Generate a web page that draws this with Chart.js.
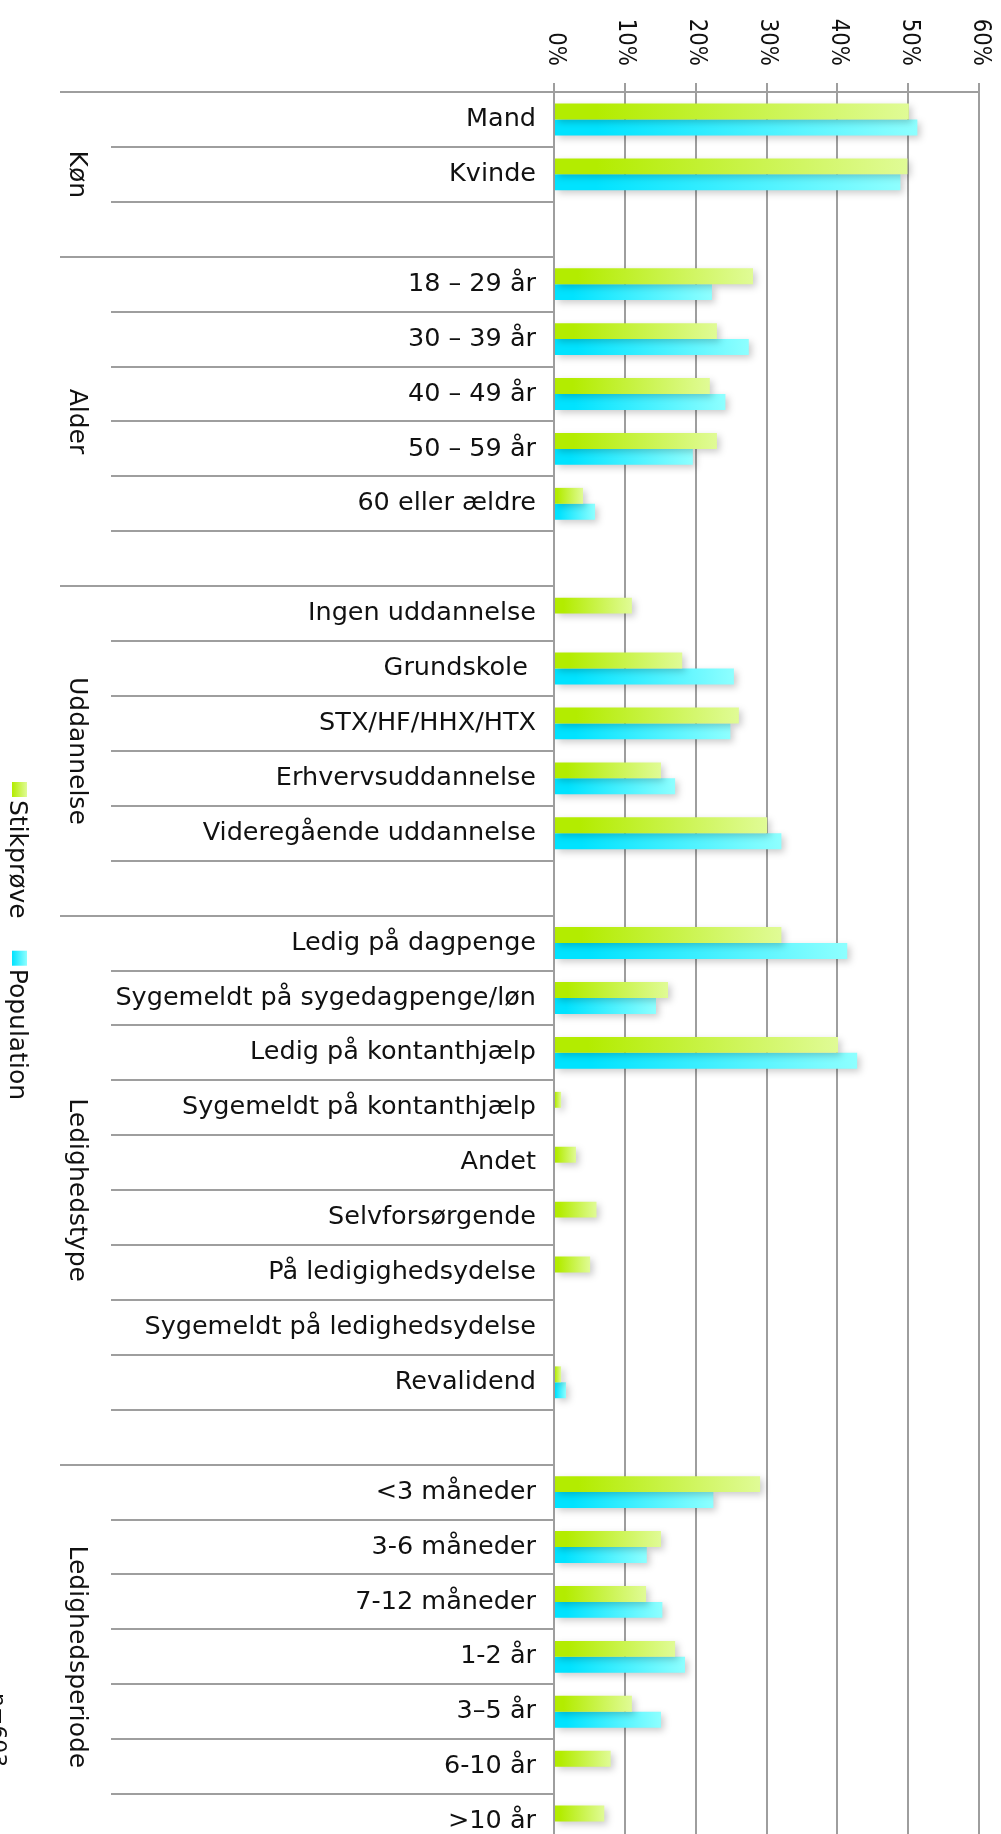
<!DOCTYPE html>
<html>
<head>
<meta charset="utf-8">
<script src="https://cdn.jsdelivr.net/npm/chart.js@4/dist/chart.umd.min.js"></script>
<style>
html,body{margin:0;padding:0;background:#fff;overflow:hidden;}
#c{display:block;}
</style>
</head>
<body>
<canvas id="c" width="1001" height="1860"></canvas>
<script>
// ---- data ----
const categories = [
  'Mand', 'Kvinde', '',
  '18 – 29 år', '30 – 39 år', '40 – 49 år', '50 – 59 år', '60 eller ældre', '',
  'Ingen uddannelse', 'Grundskole ', 'STX/HF/HHX/HTX', 'Erhvervsuddannelse', 'Videregående uddannelse', '',
  'Ledig på dagpenge', 'Sygemeldt på sygedagpenge/løn', 'Ledig på kontanthjælp', 'Sygemeldt på kontanthjælp',
  'Andet', 'Selvforsørgende', 'På ledigighedsydelse', 'Sygemeldt på ledighedsydelse', 'Revalidend', '',
  '<3 måneder', '3-6 måneder', '7-12 måneder', '1-2 år', '3–5 år', '6-10 år', '>10 år'
];
const stikproeve = [
  50.1, 49.9, null,
  28.1, 23.0, 22.0, 23.0, 4.1, null,
  11.0, 18.1, 26.1, 15.1, 30.1, null,
  32.1, 16.1, 40.1, 1.0, 3.1, 6.0, 5.1, null, 1.0, null,
  29.1, 15.1, 13.0, 17.1, 11.0, 8.0, 7.1
];
const population = [
  51.3, 48.9, null,
  22.3, 27.5, 24.2, 19.6, 5.8, null,
  null, 25.4, 24.9, 17.1, 32.1, null,
  41.4, 14.4, 42.8, null, null, null, null, null, 1.7, null,
  22.5, 13.1, 15.3, 18.5, 15.1, null, null
];
const groupNames = ['Køn', 'Alder', 'Uddannelse', 'Ledighedstype', 'Ledighedsperiode'];
const groupSizes = [3, 6, 6, 10, 7];
const xTickLabels = ['0%', '10%', '20%', '30%', '40%', '50%', '60%'];
const seriesNames = ['Stikprøve', 'Population'];
const noteText = 'n=603';

// ---- styles ----
const FONT = '"DejaVu Sans", sans-serif';
const LINE = '#9e9e9e';
const greenStops = ['#b3ec00', '#e0fb96'];
const blueStops = ['#00e3ff', '#8effff'];

function gradFill(stops) {
  return function (ctx) {
    const ch = ctx.chart;
    const xs = ch.scales && ch.scales.x;
    if (!xs || ctx.type !== 'data' || ctx.raw == null) return stops[0];
    const x0 = xs.getPixelForValue(0);
    const x1 = xs.getPixelForValue(ctx.raw);
    if (!isFinite(x0) || !isFinite(x1) || x1 - x0 < 1) return stops[0];
    const g = ch.ctx.createLinearGradient(x0, 0, x1, 0);
    g.addColorStop(0, stops[0]);
    g.addColorStop(0.12, stops[0]);
    g.addColorStop(1, stops[1]);
    return g;
  };
}

function rotText(ctx, text, x, y, align, baseline, squeeze) {
  ctx.save();
  ctx.translate(x, y);
  ctx.rotate(Math.PI / 2);
  if (squeeze) ctx.scale(squeeze, 1);
  ctx.textAlign = align;
  ctx.textBaseline = baseline;
  ctx.fillText(text, 0, 0);
  ctx.restore();
}

const decor = {
  id: 'decor',
  beforeDatasetsDraw(chart) {
    const ctx = chart.ctx;
    ctx.save();
    ctx.shadowColor = 'rgba(0,0,0,0.2)';
    ctx.shadowBlur = 7;
    ctx.shadowOffsetX = 3;
    ctx.shadowOffsetY = 3;
  },
  afterDatasetsDraw(chart) {
    chart.ctx.restore();
  },
  afterDraw(chart) {
    const ctx = chart.ctx;
    const ys = chart.scales.y;
    const xs = chart.scales.x;
    const area = chart.chartArea;
    const n = categories.length;
    const rowH = (ys.getPixelForValue(1) - ys.getPixelForValue(0));
    // separator lines
    const groupStarts = new Set();
    let acc = 0;
    groupSizes.forEach(s => { groupStarts.add(acc); acc += s; });
    groupStarts.add(acc);
    ctx.save();
    ctx.strokeStyle = LINE;
    ctx.lineWidth = 2;
    for (let k = 0; k <= n; k++) {
      const y = Math.round(ys.getPixelForValue(k) - rowH / 2);
      const xStart = groupStarts.has(k) ? 60 : 111;
      ctx.beginPath();
      ctx.moveTo(xStart, y);
      ctx.lineTo(area.left, y);
      ctx.stroke();
    }
    ctx.restore();

    ctx.save();
    ctx.fillStyle = '#111';
    // x tick labels rotated clockwise
    ctx.font = '25px ' + FONT;
    xs.ticks.forEach((t, i) => {
      const px = xs.getPixelForValue(t.value);
      rotText(ctx, xTickLabels[i], px + 1, 66, 'right', 'middle', 0.85);
    });
    // group labels
    ctx.font = '25px ' + FONT;
    acc = 0;
    groupSizes.forEach((s, i) => {
      const top = ys.getPixelForValue(acc) - rowH / 2;
      const bot = ys.getPixelForValue(acc + s - 1) + rowH / 2;
      rotText(ctx, groupNames[i], 76, (top + bot) / 2, 'center', 'middle');
      acc += s;
    });
    // legend
    let ly = 782;
    chart.data.datasets.forEach((ds, i) => {
      const st = i === 0 ? greenStops : blueStops;
      const g = ctx.createLinearGradient(12, 0, 27, 0);
      g.addColorStop(0, st[0]);
      g.addColorStop(1, st[1]);
      ctx.fillStyle = g;
      ctx.fillRect(12, ly, 15, 15);
      ctx.fillStyle = '#111';
      ctx.font = '25px ' + FONT;
      rotText(ctx, ds.label, 16, ly + 18, 'left', 'middle');
      ly += 18 + ctx.measureText(ds.label).width + 32;
    });
    // note, partly outside
    ctx.font = '22px ' + FONT;
    rotText(ctx, noteText, -9, 1693, 'left', 'alphabetic');
    ctx.restore();
  }
};

new Chart(document.getElementById('c'), {
  type: 'bar',
  data: {
    labels: categories,
    datasets: [
      { label: seriesNames[0], data: stikproeve, backgroundColor: gradFill(greenStops), borderWidth: 0 },
      { label: seriesNames[1], data: population, backgroundColor: gradFill(blueStops), borderWidth: 0 }
    ]
  },
  options: {
    indexAxis: 'y',
    responsive: false,
    animation: false,
    devicePixelRatio: 1,
    categoryPercentage: 0.58,
    barPercentage: 1.0,
    layout: { padding: { left: 0, right: 22, top: 0, bottom: 11 } },
    plugins: { legend: { display: false }, tooltip: { enabled: false } },
    scales: {
      x: {
        position: 'top',
        min: 0,
        max: 60,
        ticks: { stepSize: 10, display: false },
        grid: { color: LINE, lineWidth: 2, tickLength: 9, drawTicks: true },
        border: { display: true, color: LINE, width: 2 },
        afterFit(s) { s.height = 92; s.paddingLeft = 0; s.paddingRight = 0; }
      },
      y: {
        ticks: { padding: 18, color: '#111', autoSkip: false, font: { family: FONT, size: 25.5 } },
        grid: { display: false, drawTicks: false },
        border: { display: true, color: LINE, width: 2 },
        afterFit(s) { s.width = 554; s.paddingTop = 0; s.paddingBottom = 0; }
      }
    }
  },
  plugins: [decor]
});
</script>
</body>
</html>
